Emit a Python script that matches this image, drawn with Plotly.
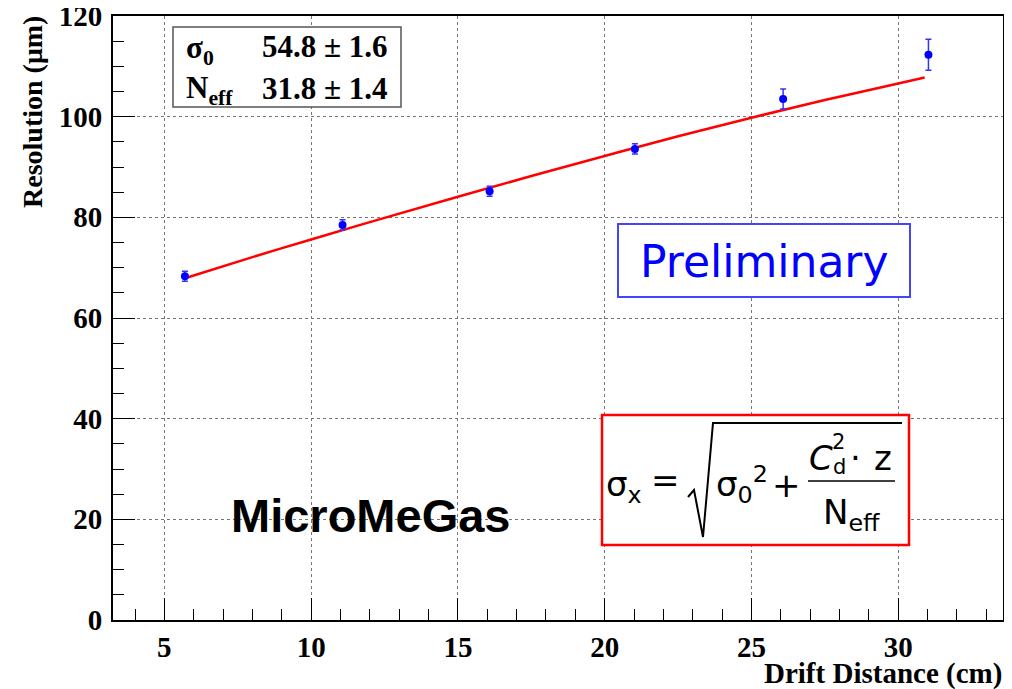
import plotly.graph_objects as go

# ---------------- data ----------------
drift_cm = [5.7, 11.07, 16.08, 21.03, 26.08, 31.03]
resolution_um = [68.3, 78.5, 85.2, 93.6, 103.5, 112.3]
resolution_err = [1.0, 1.0, 1.0, 1.0, 2.0, 3.1]

fit_x = [5.7, 8.0, 10.0, 12.5, 15.0, 17.5, 20.0, 22.5, 25.0, 27.5, 30.0, 30.9]
fit_y = [67.9, 72.1, 75.6, 79.9, 84.1, 88.2, 92.2, 96.1, 99.8, 103.3, 106.6, 107.8]

x_ticks = [5, 10, 15, 20, 25, 30]
y_ticks = [0, 20, 40, 60, 80, 100, 120]

# ---------------- layout helpers (screen pixel -> paper) ----------------
PL, PR, PT, PB = 113, 1003, 16, 620   # plot area in the photographed page


def X(sx):
    return (sx - PL) / (PR - PL)


def Y(sy):
    return (PB - sy) / (PB - PT)


fig = go.Figure()

fig.add_trace(go.Scatter(
    x=fit_x, y=fit_y, mode="lines", line_shape="spline",
    line=dict(color="#ff0000", width=2.5),
    showlegend=False, hoverinfo="skip"))

fig.add_trace(go.Scatter(
    x=drift_cm, y=resolution_um, mode="markers",
    marker=dict(color="#0000ff", size=8, symbol="circle"),
    error_y=dict(type="data", array=resolution_err, color="#3333ff",
                 thickness=1.5, width=3),
    showlegend=False))

tickfont = dict(family="Liberation Serif", size=29, color="black")
axis_common = dict(
    ticks="inside", ticklen=22, tickwidth=1.3, tickcolor="black",
    showgrid=True, gridcolor="#777777", griddash="dot", gridwidth=1,
    showline=True, linecolor="black", linewidth=2, mirror=True,
    tickfont=tickfont, zeroline=False, ticklabeloverflow="allow",
    automargin=False,
)

fig.update_layout(
    width=1004, height=681,
    margin=dict(l=PL - 8, r=1004 - (PR - 8), t=PT - 8, b=681 - (PB - 8),
                autoexpand=False),
    paper_bgcolor="white", plot_bgcolor="white",
    xaxis=dict(range=[3.25, 33.57], tickvals=x_ticks,
               ticktext=[f"<b>{v}</b>" for v in x_ticks],
               minor=dict(dtick=1, tick0=0, ticks="inside", ticklen=11,
                          tickcolor="black", showgrid=False),
               ticklabelstandoff=0, **axis_common),
    yaxis=dict(range=[0, 120], tickvals=y_ticks,
               ticktext=[f"<b>{v}</b>" for v in y_ticks],
               minor=dict(dtick=5, tick0=0, ticks="inside", ticklen=11,
                          tickcolor="black", showgrid=False),
               ticklabelstandoff=3, **axis_common),
)

# ---------------- axis titles ----------------
fig.add_annotation(text="<b>Drift Distance (cm)</b>", xref="paper", yref="paper",
                   x=X(1004), y=Y(673), xanchor="right", yanchor="middle", showarrow=False,
                   font=dict(family="Liberation Serif", size=29, color="black"))
fig.add_annotation(text="<b>Resolution (μm)</b>", xref="paper", yref="paper",
                   x=X(32), y=Y(14), xanchor="center", yanchor="top", textangle=-90,
                   showarrow=False,
                   font=dict(family="Liberation Serif", size=28, color="black"))

# ---------------- stats box ----------------
fig.add_shape(type="rect", xref="paper", yref="paper",
              x0=X(173), x1=X(401), y0=Y(107), y1=Y(27),
              line=dict(color="#555555", width=1.5), fillcolor="white", layer="above")
statfont = dict(family="Liberation Serif", size=31, color="black")
fig.add_annotation(text="<b>σ<sub>0</sub></b>", xref="paper", yref="paper",
                   x=X(184), y=Y(50), xanchor="left", yanchor="middle", showarrow=False, font=statfont)
fig.add_annotation(text="<b>54.8 ± 1.6</b>", xref="paper", yref="paper",
                   x=X(390), y=Y(47), xanchor="right", yanchor="middle", showarrow=False, font=statfont)
fig.add_annotation(text="<b>N<sub>eff</sub></b>", xref="paper", yref="paper",
                   x=X(184), y=Y(90), xanchor="left", yanchor="middle", showarrow=False, font=statfont)
fig.add_annotation(text="<b>31.8 ± 1.4</b>", xref="paper", yref="paper",
                   x=X(390), y=Y(88), xanchor="right", yanchor="middle", showarrow=False, font=statfont)

# ---------------- Preliminary box ----------------
fig.add_shape(type="rect", xref="paper", yref="paper",
              x0=X(618), x1=X(910), y0=Y(297), y1=Y(224),
              line=dict(color="#4444ff", width=2), fillcolor="white", layer="above")
fig.add_annotation(text="Preliminary", xref="paper", yref="paper",
                   x=X(764), y=Y(262), xanchor="center", yanchor="middle", showarrow=False,
                   font=dict(family="DejaVu Sans", size=44, color="#0000ff"))

# ---------------- MicroMeGas label ----------------
fig.add_annotation(text="<b>MicroMeGas</b>", xref="paper", yref="paper",
                   x=X(229), y=Y(515), xanchor="left", yanchor="middle", showarrow=False,
                   font=dict(family="Liberation Sans", size=47, color="black"))

# ---------------- formula box ----------------
fig.add_shape(type="rect", xref="paper", yref="paper",
              x0=X(602), x1=X(909), y0=Y(545), y1=Y(415),
              line=dict(color="#ff0000", width=2.5), fillcolor="white", layer="above")
ffont = dict(family="DejaVu Sans", size=34, color="black")
small = dict(family="DejaVu Sans", size=21, color="black")
fig.add_annotation(text="σ<sub>x</sub>", xref="paper", yref="paper",
                   x=X(604), y=Y(486), xanchor="left", yanchor="middle", showarrow=False, font=ffont)
fig.add_annotation(text="=", xref="paper", yref="paper",
                   x=X(665), y=Y(480), xanchor="center", yanchor="middle", showarrow=False, font=ffont)
sqrt_path = "M {},{} L {},{} L {},{} L {},{} L {},{}".format(
    X(688), Y(497), X(694), Y(490), X(703), Y(537), X(713), Y(423), X(902), Y(423))
fig.add_shape(type="path", xref="paper", yref="paper", path=sqrt_path,
              line=dict(color="black", width=2), layer="above")
fig.add_annotation(text="σ<sub>0</sub><sup>2</sup>", xref="paper", yref="paper",
                   x=X(714), y=Y(484), xanchor="left", yanchor="middle", showarrow=False, font=ffont)
fig.add_annotation(text="+", xref="paper", yref="paper",
                   x=X(786), y=Y(485), xanchor="center", yanchor="middle", showarrow=False, font=ffont)
fig.add_annotation(text="<i>C</i>", xref="paper", yref="paper",
                   x=X(821), y=Y(458), xanchor="center", yanchor="middle", showarrow=False, font=ffont)
fig.add_annotation(text="2", xref="paper", yref="paper",
                   x=X(838), y=Y(442), xanchor="center", yanchor="middle", showarrow=False, font=small)
fig.add_annotation(text="d", xref="paper", yref="paper",
                   x=X(839), y=Y(467), xanchor="center", yanchor="middle", showarrow=False, font=small)
fig.add_annotation(text="·", xref="paper", yref="paper",
                   x=X(855), y=Y(458), xanchor="center", yanchor="middle", showarrow=False, font=ffont)
fig.add_annotation(text="z", xref="paper", yref="paper",
                   x=X(883), y=Y(458), xanchor="center", yanchor="middle", showarrow=False, font=ffont)
fig.add_shape(type="line", xref="paper", yref="paper",
              x0=X(808), x1=X(895), y0=Y(481), y1=Y(481),
              line=dict(color="black", width=1.5), layer="above")
fig.add_annotation(text="N<sub>eff</sub>", xref="paper", yref="paper",
                   x=X(851), y=Y(514), xanchor="center", yanchor="middle", showarrow=False, font=ffont)

fig.write_html("out.html")
